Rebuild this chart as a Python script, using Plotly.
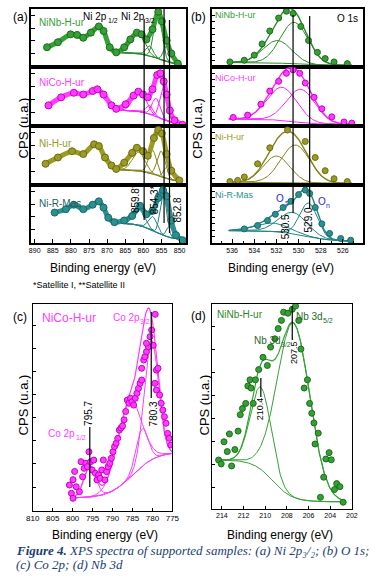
import numpy as np
import plotly.graph_objects as go

W, H = 381, 588

# ================= DATA =================
# (a) Ni 2p  -- binding energy (eV) / normalised CPS inside each stacked box
a_ninb_be  = [886.6, 883.6, 880.1, 878.3, 876.6, 874.5, 872.3, 871.0, 869.3, 867.5, 865.3, 863.6, 861.8, 860.5, 859.2, 857.5, 855.9, 854.9, 853.6, 852.3, 850.5]
a_ninb_cps = [0.35, 0.44, 0.58, 0.57, 0.52, 0.61, 0.72, 0.64, 0.35, 0.26, 0.35, 0.49, 0.61, 0.58, 0.49, 0.67, 0.98, 0.81, 0.47, 0.24, 0.06]
a_nico_be  = [886.2, 882.7, 879.2, 876.6, 874.0, 872.7, 871.0, 868.8, 867.5, 864.9, 862.7, 861.4, 860.1, 858.8, 857.5, 856.2, 855.3, 854.4, 853.6, 852.7, 851.4, 849.2]
a_nico_cps = [0.36, 0.50, 0.58, 0.55, 0.61, 0.64, 0.55, 0.36, 0.30, 0.38, 0.53, 0.60, 0.55, 0.50, 0.64, 0.89, 0.92, 0.78, 0.55, 0.27, 0.10, 0.02]
a_ni_be    = [887.0, 883.6, 879.7, 876.6, 873.6, 872.3, 870.6, 868.8, 867.5, 865.3, 863.1, 861.8, 860.1, 858.8, 857.1, 855.9, 854.9, 853.6, 852.3, 850.1]
a_ni_cps   = [0.37, 0.48, 0.59, 0.54, 0.71, 0.68, 0.48, 0.34, 0.28, 0.39, 0.56, 0.65, 0.59, 0.51, 0.82, 0.96, 0.90, 0.54, 0.25, 0.08]
a_rm_be    = [884.5, 881.4, 879.2, 876.6, 874.0, 872.3, 871.0, 869.7, 868.0, 865.3, 863.1, 860.9, 859.2, 857.5, 855.9, 854.6, 853.6, 852.3, 851.0, 849.2]
a_rm_cps   = [0.54, 0.60, 0.68, 0.60, 0.68, 0.74, 0.63, 0.45, 0.37, 0.40, 0.48, 0.66, 0.51, 0.57, 0.80, 0.94, 0.83, 0.40, 0.14, 0.05]
a_names    = ["NiNb-H-ur", "NiCo-H-ur", "Ni-H-ur", "Ni-R-Mas"]
# fitted components (a): background high-BE level, low-BE level, step centre; peaks centre/height/sigma
a_bg_left   = [0.26, 0.28, 0.27, 0.36]
a_bg_right  = [0.03, 0.02, 0.05, 0.05]
a_bg_mid    = [856.0, 856.0, 856.0, 857.0]
a_pk_center = [[861.5, 858.3, 856.0, 853.4], [861.0, 858.3, 856.5, 854.5], [861.3, 857.5, 855.1, 853.3], [861.2, 857.4, 854.5, 852.8]]
a_pk_height = [[0.38, 0.18, 0.80, 0.30], [0.38, 0.15, 0.32, 0.55], [0.33, 0.42, 0.45, 0.22], [0.28, 0.25, 0.75, 0.20]]
a_pk_sigma  = [[1.8, 1.0, 1.1, 1.0], [1.7, 1.0, 1.1, 1.0], [1.7, 1.1, 1.1, 1.0], [1.5, 1.2, 0.9, 0.8]]
a_marks     = [859.8, 854.3, 852.8]
a_ticks     = [890, 885, 880, 875, 870, 865, 860, 855, 850]

# (b) O 1s
b_ninb_be  = [536.2, 534.9, 534.0, 533.3, 532.6, 531.8, 531.1, 530.5, 529.8, 529.1, 528.3, 527.6, 526.8, 525.6]
b_ninb_cps = [0.09, 0.12, 0.21, 0.41, 0.64, 0.87, 0.99, 0.95, 0.72, 0.47, 0.26, 0.15, 0.09, 0.06]
b_nico_be  = [535.9, 534.6, 533.4, 532.6, 531.8, 531.1, 530.5, 529.9, 529.4, 528.6, 527.9, 527.0, 525.9, 525.2]
b_nico_cps = [0.15, 0.19, 0.38, 0.61, 0.78, 0.92, 0.98, 0.92, 0.75, 0.50, 0.30, 0.16, 0.07, 0.05]
b_ni_be    = [536.2, 535.5, 534.9, 533.7, 532.6, 531.0, 529.4, 528.5, 527.6, 526.8, 525.6]
b_ni_cps   = [0.06, 0.08, 0.14, 0.37, 0.65, 0.96, 0.76, 0.48, 0.25, 0.11, 0.06]
b_rm_be    = [534.9, 533.7, 532.8, 532.1, 531.4, 530.7, 530.0, 529.4, 529.0, 528.5, 527.9, 527.2, 526.2, 525.3]
b_rm_cps   = [0.25, 0.31, 0.40, 0.51, 0.63, 0.74, 0.86, 0.94, 0.88, 0.63, 0.34, 0.17, 0.08, 0.05]
b_bg_left   = [0.08, 0.12, 0.05, 0.22]
b_bg_right  = [0.03, 0.03, 0.03, 0.03]
b_bg_mid    = [530.5, 530.5, 530.5, 529.5]
b_pk_center = [[531.9, 530.4], [531.5, 529.8], [532.0, 530.3], [532.3, 530.5, 529.1]]
b_pk_height = [[0.40, 0.74], [0.58, 0.58], [0.46, 0.66], [0.15, 0.38, 0.60]]
b_pk_sigma  = [[1.3, 1.25], [1.35, 1.3], [1.2, 1.3], [1.5, 1.3, 0.8]]
b_marks     = [530.5, 529.0]
b_ticks     = [538, 536, 534, 532, 530, 528, 526, 524]

# (c) Co 2p (NiCo-H-ur)
c_be  = [800.8, 800.3, 799.9, 799.5, 799.9, 799.1, 798.3, 797.9, 797.5, 797.1, 796.7, 796.3, 795.9, 795.5, 795.1, 794.7, 794.3, 793.9, 793.5, 793.1, 792.7, 792.3, 791.9, 791.5, 791.1, 790.7, 790.3, 789.9, 789.5, 789.1, 788.7, 788.3, 787.9, 787.5, 787.1, 786.7, 786.3, 785.9, 785.5, 785.1, 784.7, 784.3, 783.9, 783.5, 783.1, 782.7, 782.7, 782.2, 781.9, 781.5, 781.0, 781.5, 780.6, 780.2, 779.8, 779.3, 779.0, 778.6, 779.4, 779.0, 778.2, 777.8, 777.4, 777.0, 776.6, 776.2, 775.8, 775.4]
c_cps = [0.124, 0.084, 0.06, 0.19, 0.15, 0.116, 0.092, 0.237, 0.164, 0.205, 0.229, 0.213, 0.285, 0.237, 0.197, 0.245, 0.181, 0.149, 0.173, 0.157, 0.197, 0.245, 0.149, 0.189, 0.213, 0.229, 0.254, 0.285, 0.31, 0.326, 0.35, 0.39, 0.40, 0.41, 0.44, 0.48, 0.535, 0.52, 0.544, 0.527, 0.511, 0.544, 0.568, 0.592, 0.616, 0.632, 0.689, 0.729, 0.745, 0.769, 0.793, 0.81, 0.842, 0.874, 0.80, 0.95, 0.68, 0.689, 0.616, 0.584, 0.56, 0.52, 0.487, 0.455, 0.423, 0.374, 0.35, 0.318]
c_bg_high, c_bg_low, c_bg_mid = 0.06, 0.285, 785.0
c_pk_center = [780.3, 782.6, 785.8, 795.7]
c_pk_height = [0.58, 0.18, 0.37, 0.15]
c_pk_sigma  = [1.8, 1.5, 3.0, 1.5]
c_marks     = [795.7, 780.3]
c_ticks     = [810, 805, 800, 795, 790, 785, 780, 775]

# (d) Nb 3d (NiNb-H-ur)
d_be  = [214.3, 214.06, 213.8, 213.5, 213.3, 213.1, 212.8, 212.5, 212.3, 212.1, 211.8, 211.6, 211.4, 211.3, 211.1, 210.9, 210.6, 210.2, 209.8, 209.5, 209.1, 208.8, 208.5, 208.3, 207.9, 207.5, 207.2, 206.9, 206.7, 206.4, 206.1, 205.9, 205.7, 205.5, 205.4, 205.1, 204.9, 204.6, 204.4, 204.1, 203.9, 203.6, 203.4, 203.1, 202.8]
d_cps = [0.239, 0.22, 0.328, 0.28, 0.366, 0.21, 0.29, 0.38, 0.46, 0.49, 0.515, 0.60, 0.63, 0.59, 0.515, 0.63, 0.68, 0.74, 0.70, 0.79, 0.83, 0.88, 0.92, 0.96, 0.955, 0.974, 0.99, 0.92, 0.78, 0.59, 0.63, 0.515, 0.467, 0.42, 0.317, 0.37, 0.057, 0.155, 0.244, 0.275, 0.24, 0.095, 0.124, 0.109, 0.033]
d_bg_high, d_bg_low, d_bg_mid = 0.24, 0.035, 209.3
d_pk_center = [210.4, 207.4]
d_pk_height = [0.40, 0.85]
d_pk_sigma  = [0.95, 1.5]
d_marks     = [210.4, 207.5]
d_ticks     = [214, 212, 210, 208, 206, 204, 202]

# ================= STYLE =================
SANS = "Liberation Sans, Arial, sans-serif"
SERIF = "Liberation Serif, Times New Roman, serif"
GREEN, MAG, OLIVE, TEAL = "#35a035", "#ff3cff", "#9a9a24", "#2b9090"
EDGE = {GREEN: "#1d6a1d", MAG: "#c400c4", OLIVE: "#6c6c12", TEAL: "#196868"}
LINEC = {GREEN: "#2a8a2a", MAG: "#ff22ff", OLIVE: "#85851c", TEAL: "#238383"}
COLS = [GREEN, MAG, OLIVE, TEAL]


def gauss(x, c, h, s):
    return h * np.exp(-(x - c) ** 2 / (2 * s ** 2))


def step(x, low_be_val, high_be_val, mid, w):
    return low_be_val + (high_be_val - low_be_val) / (1 + np.exp(-(x - mid) / w))


def xd(l, r):
    return [l / W, r / W]


def yd(t, b):
    return [1 - b / H, 1 - t / H]


def px(x):
    return x / W


def py(y):
    return 1 - y / H


fig = go.Figure()


def add(tr, k):
    ref = "" if k == 1 else str(k)
    tr.update(xaxis="x" + ref, yaxis="y" + ref, hoverinfo="skip")
    fig.add_trace(tr)


def comp_line(k, x, y, col, w=1.0):
    add(go.Scatter(x=x, y=y, mode="lines", line=dict(color=col, width=w)), k)


layout = dict(width=W, height=H, margin=dict(l=0, r=0, t=0, b=0), paper_bgcolor="white",
              plot_bgcolor="white", showlegend=False)

AX = dict(showline=True, mirror=True, linecolor="black", showgrid=False, zeroline=False)


def set_axes(k, xdom, ydom, xr, yr, xlw, xkw, ykw):
    ref = "" if k == 1 else str(k)
    xa = dict(AX, domain=xdom, range=xr, linewidth=xlw, anchor="y" + ref, fixedrange=True)
    xa.update(xkw)
    ya = dict(AX, domain=ydom, range=yr, linewidth=xlw, anchor="x" + ref, fixedrange=True)
    ya.update(ykw)
    layout["xaxis" + ref] = xa
    layout["yaxis" + ref] = ya


tops = [9, 67, 126, 185]
bots = [67, 126, 185, 243]

# ---------- (a) ----------
a_be_all = [a_ninb_be, a_nico_be, a_ni_be, a_rm_be]
a_cps_all = [a_ninb_cps, a_nico_cps, a_ni_cps, a_rm_cps]
xg = np.linspace(866.5, 849.5, 200)
for i in range(4):
    k = i + 1
    col = COLS[i]
    bg = step(xg, a_bg_right[i], a_bg_left[i], a_bg_mid[i], 2.5)
    comp_line(k, xg, bg, LINEC[col])
    for c, h, s in zip(a_pk_center[i], a_pk_height[i], a_pk_sigma[i]):
        comp_line(k, xg, bg + gauss(xg, c, h, s), LINEC[col])
    add(go.Scatter(x=a_be_all[i], y=a_cps_all[i], mode="lines+markers",
                   line=dict(color=col, width=5, shape="spline", smoothing=0.7),
                   marker=dict(size=7, color=col, line=dict(color=EDGE[col], width=1))), k)
    xkw = dict(ticks="", showticklabels=False)
    if i == 3:
        xkw = dict(ticks="inside", ticklen=4, tickcolor="black", tickvals=a_ticks, showticklabels=True,
                   tickfont=dict(family=SANS, size=7, color="black"))
    ykw = dict(ticks="inside", ticklen=4, tickcolor="black", tickvals=[0.24, 0.465, 0.69, 0.915],
               showticklabels=False)
    set_axes(k, xd(25, 186), yd(tops[i], bots[i]), [891.0, 848.2], [0, 1.03], 2, xkw, ykw)

# ---------- (b) ----------
b_be_all = [b_ninb_be, b_nico_be, b_ni_be, b_rm_be]
b_cps_all = [b_ninb_cps, b_nico_cps, b_ni_cps, b_rm_cps]
xb = np.linspace(536.3, 525.2, 200)
for i in range(4):
    k = i + 5
    col = COLS[i]
    bw = 1.2 if i == 3 else 1.0
    bg = step(xb, b_bg_right[i], b_bg_left[i], b_bg_mid[i], bw)
    comp_line(k, xb, bg, LINEC[col])
    env = bg.copy()
    for c, h, s in zip(b_pk_center[i], b_pk_height[i], b_pk_sigma[i]):
        g = gauss(xb, c, h, s)
        env = env + g
        comp_line(k, xb, bg + g, LINEC[col])
    comp_line(k, xb, env, LINEC[col], 1.4)
    add(go.Scatter(x=b_be_all[i], y=b_cps_all[i], mode="markers",
                   marker=dict(size=6, color=col, line=dict(color=EDGE[col], width=1))), k)
    xkw = dict(ticks="", showticklabels=False)
    if i == 3:
        xkw = dict(ticks="inside", ticklen=4, tickcolor="black", tickvals=b_ticks, showticklabels=True,
                   tickfont=dict(family=SANS, size=7, color="black"),
                   minor=dict(ticks="inside", ticklen=2, dtick=1, tickcolor="black"))
    ykw = dict(ticks="inside", ticklen=3, tickcolor="black", tick0=0.0, dtick=0.115, showticklabels=False)
    set_axes(k, xd(213, 370), yd(tops[i], bots[i]), [537.8, 524.15], [0, 1.03], 2, xkw, ykw)

# ---------- (c) ----------
xc = np.linspace(800.5, 775, 220)
bgc = step(xc, c_bg_low, c_bg_high, c_bg_mid, 3.0)
comp_line(9, xc, bgc, MAG)
envc = bgc.copy()
for c, h, s in zip(c_pk_center, c_pk_height, c_pk_sigma):
    g = gauss(xc, c, h, s)
    envc = envc + g
    comp_line(9, xc, bgc + g, MAG)
comp_line(9, xc, envc, MAG, 1.2)
add(go.Scatter(x=c_be, y=c_cps, mode="markers",
               marker=dict(size=6, color=MAG, line=dict(color=EDGE[MAG], width=1))), 9)
set_axes(9, xd(26.7, 171.7), yd(304, 510.7), [810, 775], [0, 1], 1,
         dict(ticks="inside", ticklen=3, tickcolor="black", tickvals=c_ticks,
              tickfont=dict(family=SANS, size=8, color="black")),
         dict(ticks="inside", ticklen=3, tickcolor="black", tick0=0.114, dtick=0.112, showticklabels=False))

# ---------- (d) ----------
xdd = np.linspace(214.5, 202.8, 220)
bgd = step(xdd, d_bg_low, d_bg_high, d_bg_mid, 0.9)
comp_line(10, xdd, bgd, GREEN)
envd = bgd.copy()
for c, h, s in zip(d_pk_center, d_pk_height, d_pk_sigma):
    g = gauss(xdd, c, h, s)
    envd = envd + g
    comp_line(10, xdd, bgd + g, GREEN)
comp_line(10, xdd, envd, GREEN, 1.2)
add(go.Scatter(x=d_be, y=d_cps, mode="markers",
               marker=dict(size=6, color=GREEN, line=dict(color=EDGE[GREEN], width=1))), 10)
set_axes(10, xd(212.7, 358), yd(304, 509), [214.92, 202.0], [0, 1], 1,
         dict(ticks="inside", ticklen=3, tickcolor="black", tickvals=d_ticks,
              tickfont=dict(family=SANS, size=7, color="black")),
         dict(ticks="inside", ticklen=3, tickcolor="black", tick0=0.107, dtick=0.112, showticklabels=False))

# ================= SHAPES (marker lines) =================
shapes = []


def vline(xref, x, y0, y1):
    shapes.append(dict(type="line", xref=xref, yref="paper", x0=x, x1=x, y0=py(y1), y1=py(y0),
                       line=dict(color="black", width=1.2)))


vline("x4", a_marks[0], 19, 220)
vline("x4", a_marks[1], 9, 223)
vline("x4", a_marks[2], 20, 233)
vline("x8", b_marks[0], 15, 213)
vline("x8", b_marks[1], 16, 208)
vline("x9", c_marks[0], 427, 487)
vline("x9", c_marks[1], 312, 398)
vline("x10", d_marks[0], 378, 397)
vline("x10", d_marks[1], 306, 340)
layout["shapes"] = shapes

# ================= TEXT =================
anns = []


def ann(text, x, y, size, color="black", angle=0, xanchor="center", family=SANS):
    anns.append(dict(text=text, x=px(x), y=py(y), xref="paper", yref="paper",
                     xanchor=xanchor, yanchor="middle", showarrow=False, textangle=angle,
                     borderpad=0, borderwidth=0,
                     font=dict(family=family, size=size, color=color)))


def ann_sub(main, sub, xs, y, size, color="black", sub_size=7, dy=4):
    ann(main, xs, y, size, color, xanchor="right")
    ann(sub, xs + 0.5, y + dy, sub_size, color, xanchor="left")


# panel letters
ann("(a)", 14, 17, 12)
ann("(b)", 199, 17, 12)
ann("(c)", 14, 317, 12)
ann("(d)", 199, 316, 12)
# y titles
ann("CPS (u.a.)", 17, 128, 13, angle=-90)
ann("CPS (u.a.)", 197, 128, 13, angle=-90)
ann("CPS (u.a.)", 17, 405, 13, angle=-90)
ann("CPS (u.a.)", 205, 405, 13, angle=-90)
# x titles
ann("Binding energy (eV)", 100, 268, 12)
ann("Binding energy (eV)", 284, 268, 12)
ann("Binding energy (eV)", 102, 535, 12)
ann("Binding energy (eV)", 283, 535, 12)
ann("*Satellite I, **Satellite II", 27, 285, 9, xanchor="left")

# (a) texts
a_lab_y = [23, 82, 143, 203]
a_lab_c = [GREEN, MAG, OLIVE, "#1f5f5f"]
for i in range(4):
    ann(a_names[i], 33, a_lab_y[i], 10, color=a_lab_c[i], xanchor="left")
ann_sub("Ni 2p", "1/2", 104, 16, 10)
ann_sub("Ni 2p", "3/2", 143, 16, 10)
ann("859.8*", 133, 199, 10, angle=-90)
ann("854.3*", 154, 200, 10, angle=-90)
ann("852.8", 177, 210, 10, angle=-90)

# (b) texts
b_lab_y = [15, 78, 137, 195]
b_lab_c = [GREEN, MAG, OLIVE, TEAL]
for i in range(4):
    ann(a_names[i], 216, b_lab_y[i], 9, color=b_lab_c[i], xanchor="left")
ann("O 1s", 353, 18, 10)
ann_sub("O", "s", 288, 198, 10, color="#2a2ad8", sub_size=7, dy=4)
ann_sub("O", "n", 331, 201, 10, color="#2a2ad8", sub_size=7, dy=4)
ann("530.5", 290, 227, 10, angle=-90)
ann("529.0", 314, 220, 10, angle=-90)

# (c) texts
ann("NiCo-H-ur", 36, 318, 12, color=MAG, xanchor="left")
ann_sub("Co 2p", "3/2", 138, 317, 10, color=MAG)
ann_sub("Co 2p", "1/2", 71, 433, 10, color=MAG)
ann("795.7", 85, 413, 10, angle=-90)
ann("780.3", 152, 414, 10, angle=-90)

# (d) texts
ann("NiNb-H-ur", 218, 314, 10, color="#2a8a2a", xanchor="left")
ann_sub("Nb 3d", "5/2", 328, 316, 10, color="#1f6a1f")
ann_sub("Nb 3d", "3/2", 284, 340, 10, color="#1f6a1f")
ann("210.4", 263, 409, 9, angle=-90)
ann("207.5", 298, 353, 9, angle=-90)

# caption
CAP = "#213d73"
ann("<b><i>Figure 4.</i></b><i> XPS spectra of supported samples: (a) Ni 2p\u2083/\u2082; (b) O 1s;</i>",
    9, 550, 13, color=CAP, xanchor="left", family=SERIF)
ann("<i>(c) Co 2p; (d) Nb 3d</i>", 9, 564, 13, color=CAP, xanchor="left", family=SERIF)

layout["annotations"] = anns
fig.update_layout(**layout)
fig.write_html("out.html", config={"displayModeBar": False},
               post_script="document.body.style.margin='0';document.body.style.overflow='hidden';")
